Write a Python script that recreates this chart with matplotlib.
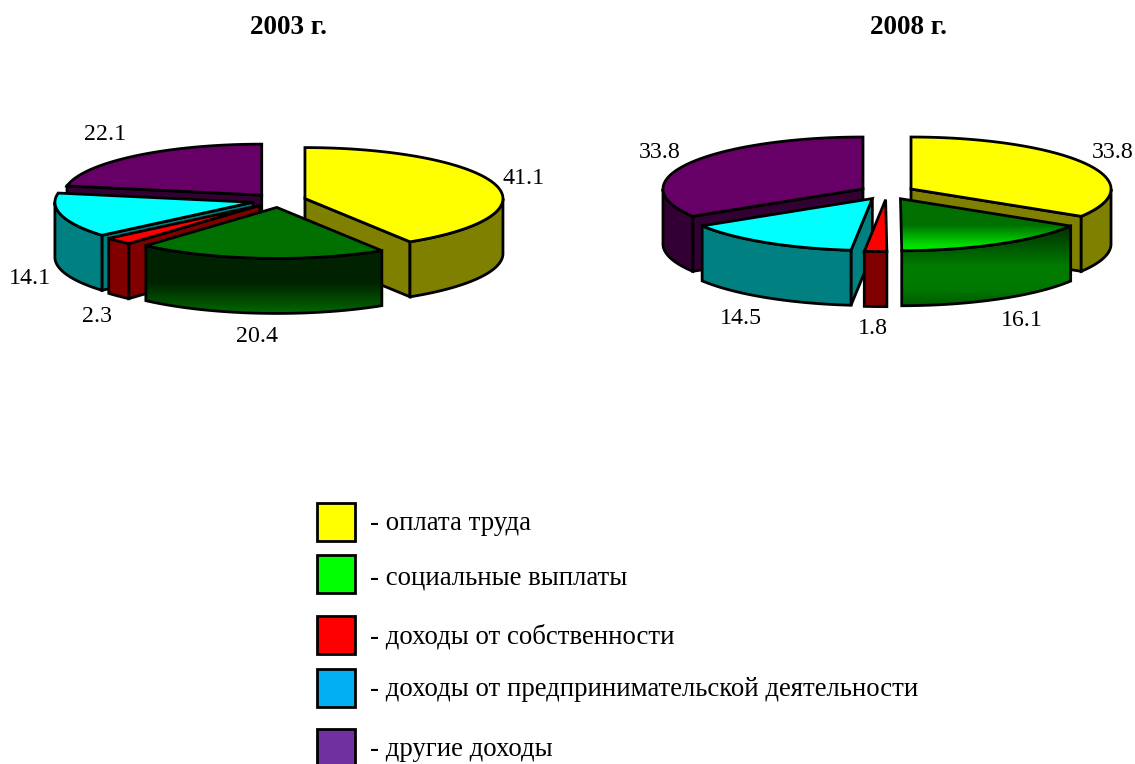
import numpy as np
import matplotlib
matplotlib.use('Agg')
import matplotlib.pyplot as plt
from matplotlib.colors import LinearSegmentedColormap
from matplotlib.patches import Polygon, Rectangle

plt.rcParams['font.family'] = ['Liberation Serif', 'DejaVu Serif']

# Data
titles = ['2003 г.', '2008 г.']
values_2003 = [41.1, 20.4, 2.3, 14.1, 22.1]
values_2008 = [33.8, 16.1, 1.8, 14.5, 33.8]
legend_labels = ['- оплата труда', '- социальные выплаты', '- доходы от собственности',
                 '- доходы от предпринимательской деятельности', '- другие доходы']

# Styles: top and side colour per slice
top_colors = ['#FFFF00', '#007000', '#FF0000', '#00FFFF', '#660066']
side_colors = ['#808000', '#004000', '#800000', '#008080', '#330033']
legend_colors = ['#FFFF00', '#00FF00', '#FF0000', '#00B0F0', '#7030A0']
draw_order = [4, 0, 3, 2, 1]

# gradients on the green slice: (stop, colour) from the top of its bbox
green_2003 = {'top': [(0, '#007000'), (1, '#007000')],
              'side': [(0, '#002200'), (0.55, '#002200'), (1, '#006800')]}
green_2008 = {'top': [(0, '#007000'), (0.5, '#007000'), (0.88, '#00DD00'), (1, '#00E800')],
              'side': [(0, '#003000'), (0.35, '#006400'), (0.5, '#007C00'), (0.8, '#007800'), (1, '#005800')]}

fig = plt.figure(figsize=(11.35, 7.64), dpi=100)
ax = fig.add_axes([0, 0, 1, 1])
ax.set_xlim(0, 1135)
ax.set_ylim(764, 0)
ax.axis('off')


def gradient_poly(pts, stops, z):
    # polygon filled with a vertical gradient
    cmap = LinearSegmentedColormap.from_list('g', stops)
    x0, y0 = pts.min(axis=0)
    x1, y1 = pts.max(axis=0)
    im = ax.imshow(np.linspace(0, 1, 256).reshape(-1, 1), cmap=cmap, vmin=0, vmax=1,
                   extent=(x0, x1, y1, y0), aspect='auto', zorder=z, interpolation='bilinear')
    clip = Polygon(pts, closed=True, transform=ax.transData, fill=False, edgecolor='none')
    ax.add_patch(clip)
    im.set_clip_path(clip)
    ax.add_patch(Polygon(pts, closed=True, facecolor='none', edgecolor='black',
                         linewidth=2.0, joinstyle='miter', zorder=z))


def face(pts, color, z, stops=None):
    if stops is not None:
        gradient_poly(pts, stops, z)
    else:
        ax.add_patch(Polygon(pts, closed=True, facecolor=color, edgecolor='black',
                             linewidth=2.0, joinstyle='miter', zorder=z))


def pie3d(values, cx, cy, rx, ry, depth, explode, green):
    # angles run clockwise from the top, in degrees
    edges = np.concatenate([[0], np.cumsum(values)]) * 3.6
    ry_k = ry / rx
    z = 2
    for i in draw_order:
        a0, a1 = edges[i], edges[i + 1]
        mid = np.radians((a0 + a1) / 2)
        ax_x = cx + explode * np.sin(mid)
        ax_y = cy - explode * ry_k * np.cos(mid)

        def rim(deg):
            t = np.radians(deg)
            return np.column_stack([ax_x + rx * np.sin(t), ax_y - ry * np.cos(t)])

        apex = np.array([[ax_x, ax_y]])
        down = np.array([0, depth])
        side_stops = green['side'] if i == 1 else None
        top_stops = green['top'] if i == 1 else None

        # radial walls that face the viewer
        for edge, normal in ((a0, a0 - 90), (a1, a1 + 90)):
            if np.cos(np.radians(normal)) < -0.01:
                p = np.vstack([apex, rim([edge])])
                face(np.vstack([p, p[::-1] + down]), side_colors[i], z, side_stops)
                z += 1

        # outer wall, only the front half of the rim
        lo, hi = max(a0, 90), min(a1, 270)
        if hi > lo:
            arc = rim(np.linspace(lo, hi, 80))
            face(np.vstack([arc, arc[::-1] + down]), side_colors[i], z, side_stops)
            z += 1

        # top face
        arc = rim(np.linspace(a0, a1, 120))
        face(np.vstack([apex, arc]), top_colors[i], z, top_stops)
        z += 1


pie3d(values_2003, 279, 200.5, 198, 51, 55, 27, green_2003)
pie3d(values_2008, 887, 192.5, 200, 52, 55, 27.5, green_2008)

# Titles
title_x = [288, 908]
for t, x in zip(titles, title_x):
    ax.text(x, 27, t, fontsize=19.5, fontweight='bold', ha='center', va='center', color='black')

# Value labels, same order as the values
label_pos_2003 = [(524, 178), (257, 337), (97, 317), (30, 278), (105, 134)]
label_pos_2008 = [(1113, 152), (1022, 321), (873, 328), (741, 319), (660, 152)]
for vals, pos in ((values_2003, label_pos_2003), (values_2008, label_pos_2008)):
    for v, (x, y) in zip(vals, pos):
        ax.text(x, y, f'{v:.1f}', fontsize=17.2, ha='center', va='center', color='black', zorder=30)

# Legend
box_y = [503, 555, 616, 669, 729]
text_y = [524, 578, 637, 690, 750]
for c, lab, by, ty in zip(legend_colors, legend_labels, box_y, text_y):
    ax.add_patch(Rectangle((317, by), 38, 38, facecolor=c, edgecolor='black', linewidth=2.0,
                           clip_on=False, zorder=5))
    ax.text(370, ty, lab, fontsize=19.3, ha='left', va='center', color='black')

plt.savefig('out.png', dpi=100)
